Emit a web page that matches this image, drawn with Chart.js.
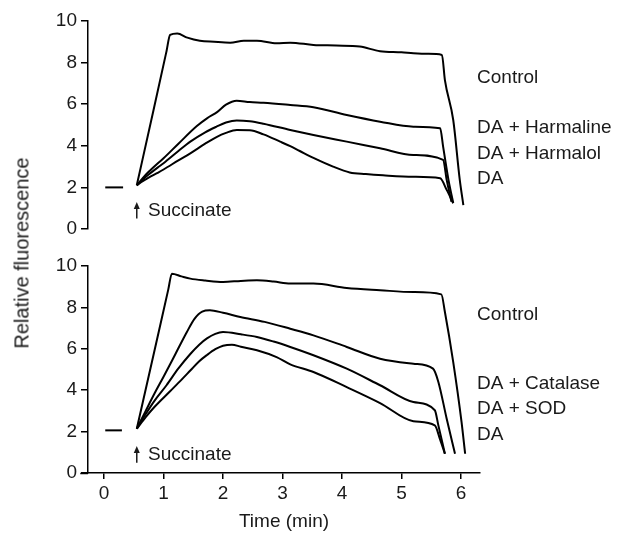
<!DOCTYPE html>
<html>
<head>
<meta charset="utf-8">
<script src="https://cdn.jsdelivr.net/npm/chart.js@4.4.1/dist/chart.umd.min.js"></script>
<style>
  html, body { margin: 0; padding: 0; background: #fff; }
  #wrap { position: relative; width: 619px; height: 535px; overflow: hidden; }
  #top { position: absolute; left: 0; top: 0; }
  #bot { position: absolute; left: 0; top: 250px; }
  #ytitle {
    position: absolute; left: 22px; top: 253px;
    transform: translate(-50%, -50%) rotate(-90deg);
    font-family: "Liberation Sans", Arial, sans-serif; font-size: 20px; color: #1a1a1a;
    white-space: nowrap;
  }
</style>
</head>
<body>
<div id="wrap">
  <canvas id="top" width="619" height="250"></canvas>
  <canvas id="bot" width="619" height="285"></canvas>
  <div id="ytitle">Relative fluorescence</div>
</div>
<script>
// ---------- data ----------
const xTickValues = [0, 1, 2, 3, 4, 5, 6];
const yTickValues = [0, 2, 4, 6, 8, 10];

// top panel
const topBaselineT = [0.02, 0.32];
const topBaselineV = [2.0, 2.0];
const topControlT = [0.55, 0.83, 1.05, 1.11, 1.23, 1.4, 1.61, 1.85, 2.12, 2.35, 2.57, 2.9, 3.13, 3.52, 3.9, 4.3, 4.64, 5.0, 5.2, 5.45, 5.68, 5.73, 5.87, 5.98, 6.04];
const topControlV = [2.1, 5.7, 8.55, 9.33, 9.4, 9.2, 9.05, 9.0, 8.96, 9.05, 9.05, 8.93, 8.96, 8.85, 8.82, 8.77, 8.55, 8.5, 8.45, 8.42, 8.37, 7.16, 5.24, 2.36, 1.15];
const topHarmalineT = [0.55, 0.65, 0.75, 0.9, 1.0, 1.25, 1.56, 1.73, 1.9, 2.05, 2.23, 2.45, 2.68, 3.13, 3.52, 4.08, 4.64, 5.2, 5.65, 5.7, 5.79, 5.87];
const topHarmalineV = [2.1, 2.45, 2.75, 3.15, 3.4, 4.1, 4.95, 5.32, 5.62, 5.98, 6.17, 6.1, 6.07, 5.96, 5.85, 5.48, 5.16, 4.92, 4.84, 3.96, 2.36, 1.25];
const topHarmalolT = [0.55, 0.65, 0.75, 0.9, 1.0, 1.25, 1.45, 1.7, 1.89, 2.05, 2.23, 2.45, 2.68, 3.13, 3.52, 4.08, 4.64, 5.2, 5.7, 5.76, 5.84];
const topHarmalolV = [2.1, 2.38, 2.62, 2.95, 3.16, 3.75, 4.2, 4.65, 4.92, 5.12, 5.22, 5.18, 5.06, 4.76, 4.52, 4.2, 3.88, 3.56, 3.32, 2.36, 1.31];
const topDAT = [0.55, 0.65, 0.75, 0.9, 1.0, 1.25, 1.45, 1.7, 1.89, 2.05, 2.23, 2.45, 2.68, 2.96, 3.13, 3.29, 3.52, 3.85, 4.13, 4.4, 4.69, 5.2, 5.65, 5.76, 5.87];
const topDAV = [2.1, 2.3, 2.47, 2.7, 2.86, 3.3, 3.64, 4.1, 4.42, 4.62, 4.76, 4.75, 4.55, 4.2, 3.98, 3.75, 3.42, 3.0, 2.72, 2.64, 2.58, 2.51, 2.44, 1.88, 1.24];

// bottom panel
const botBaselineT = [0.02, 0.3];
const botBaselineV = [2.06, 2.06];
const botControlT = [0.55, 0.85, 1.08, 1.14, 1.3, 1.45, 1.7, 2.0, 2.3, 2.57, 2.85, 3.13, 3.52, 4.08, 4.64, 5.2, 5.67, 5.73, 5.87, 6.01, 6.07];
const botControlV = [2.14, 5.94, 8.87, 9.63, 9.5, 9.39, 9.3, 9.23, 9.28, 9.31, 9.25, 9.15, 9.15, 8.94, 8.83, 8.74, 8.63, 7.78, 5.36, 2.46, 0.93];
const botCatalaseT = [0.55, 0.7, 0.85, 1.0, 1.2, 1.39, 1.52, 1.65, 1.78, 2.0, 2.29, 2.7, 3.13, 3.52, 4.08, 4.64, 5.2, 5.53, 5.62, 5.76, 5.9];
const botCatalaseV = [2.14, 3.0, 3.85, 4.65, 5.75, 6.8, 7.45, 7.8, 7.86, 7.74, 7.54, 7.3, 6.97, 6.65, 6.09, 5.52, 5.28, 5.04, 4.4, 2.62, 0.93];
const botSODT = [0.55, 0.7, 0.85, 1.05, 1.25, 1.45, 1.6, 1.73, 1.87, 2.0, 2.3, 2.57, 2.85, 3.13, 3.52, 4.08, 4.64, 5.2, 5.56, 5.62, 5.73];
const botSODV = [2.14, 2.85, 3.5, 4.24, 5.05, 5.75, 6.2, 6.5, 6.72, 6.81, 6.7, 6.57, 6.35, 6.09, 5.69, 5.04, 4.24, 3.43, 3.03, 2.3, 0.93];
const botDAT = [0.55, 0.7, 0.85, 1.11, 1.3, 1.45, 1.6, 1.73, 1.87, 2.0, 2.15, 2.3, 2.57, 2.9, 3.13, 3.52, 4.08, 4.64, 5.2, 5.56, 5.65, 5.73];
const botDAV = [2.14, 2.7, 3.2, 3.95, 4.5, 4.95, 5.4, 5.7, 5.98, 6.15, 6.2, 6.1, 5.93, 5.6, 5.25, 4.88, 4.15, 3.38, 2.5, 2.3, 1.61, 0.93];

const topLabels = ["Control", "DA + Harmaline", "DA + Harmalol", "DA"];
const botLabels = ["Control", "DA + Catalase", "DA + SOD", "DA"];
const xTitle = "Time (min)";
const succinateText = "Succinate";

// ---------- layout / style ----------
const topLabelY = [7.26, 4.86, 3.6, 2.4];
const botLabelY = [7.63, 4.33, 3.08, 1.84];
const labelX = 6.27;
const arrowAt = { x: 0.55, yFrom: 0.5, yTo: 1.3, textX: 0.74, textY: 0.88 };
const X_MIN = -0.27, X_MAX = 6.32, X_AXIS_START = -0.4;
const FONT = '"Liberation Sans", Arial, sans-serif';
const INK = '#1a1a1a';

function pts(t, v) { return t.map((x, i) => ({ x: x, y: v[i] })); }
function ds(t, v, label) {
  return { label: label, data: pts(t, v), borderColor: '#000', borderWidth: 2, pointRadius: 0,
           cubicInterpolationMode: 'monotone', fill: false };
}

const annotate = (labels, ys) => ({
  id: 'annot',
  afterDatasetsDraw(chart) {
    const { ctx, scales: { x, y } } = chart;
    ctx.save();
    ctx.fillStyle = INK;
    ctx.font = '19px ' + FONT;
    ctx.textAlign = 'left';
    ctx.textBaseline = 'middle';
    labels.forEach((s, i) => ctx.fillText(s, x.getPixelForValue(labelX), y.getPixelForValue(ys[i])));
    // succinate arrow
    const ax = x.getPixelForValue(arrowAt.x);
    const y0 = y.getPixelForValue(arrowAt.yFrom), y1 = y.getPixelForValue(arrowAt.yTo);
    ctx.strokeStyle = INK; ctx.lineWidth = 1.5;
    ctx.beginPath(); ctx.moveTo(ax, y0); ctx.lineTo(ax, y1 + 3); ctx.stroke();
    ctx.beginPath(); ctx.moveTo(ax, y1); ctx.lineTo(ax - 3, y1 + 7); ctx.lineTo(ax + 3, y1 + 7); ctx.closePath(); ctx.fill();
    ctx.fillText(succinateText, x.getPixelForValue(arrowAt.textX), y.getPixelForValue(arrowAt.textY));
    ctx.restore();
  }
});

const axisExt = {
  id: 'axisExt',
  afterDraw(chart) {
    const { ctx, chartArea, scales: { x } } = chart;
    ctx.save();
    ctx.strokeStyle = '#000'; ctx.lineWidth = 1.5;
    ctx.beginPath();
    ctx.moveTo(x.getPixelForValue(X_AXIS_START), chartArea.bottom + 0.5);
    ctx.lineTo(chartArea.left, chartArea.bottom + 0.5);
    ctx.stroke();
    ctx.restore();
  }
};

function yScale() {
  return {
    type: 'linear', position: 'left', min: 0, max: 10,
    afterFit(s) { s.width = 88; },
    afterBuildTicks(s) { s.ticks = yTickValues.map(v => ({ value: v })); },
    grid: { display: true, drawOnChartArea: false, drawTicks: true, tickLength: 7, color: '#000', lineWidth: 1.5 },
    border: { display: true, color: '#000', width: 1.5 },
    ticks: { padding: 4, color: INK, font: { family: FONT, size: 19 } }
  };
}

Chart.defaults.animation = false;

new Chart(document.getElementById('top'), {
  type: 'line',
  data: { datasets: [
    ds(topBaselineT, topBaselineV, 'baseline'),
    ds(topControlT, topControlV, topLabels[0]),
    ds(topHarmalineT, topHarmalineV, topLabels[1]),
    ds(topHarmalolT, topHarmalolV, topLabels[2]),
    ds(topDAT, topDAV, topLabels[3])
  ] },
  options: {
    responsive: false, animation: false,
    layout: { padding: { left: 0, top: 21, right: 139, bottom: 21 } },
    plugins: { legend: { display: false }, tooltip: { enabled: false } },
    scales: {
      x: { type: 'linear', min: X_MIN, max: X_MAX, display: false },
      y: yScale()
    }
  },
  plugins: [annotate(topLabels, topLabelY)]
});

new Chart(document.getElementById('bot'), {
  type: 'line',
  data: { datasets: [
    ds(botBaselineT, botBaselineV, 'baseline'),
    ds(botControlT, botControlV, botLabels[0]),
    ds(botCatalaseT, botCatalaseV, botLabels[1]),
    ds(botSODT, botSODV, botLabels[2]),
    ds(botDAT, botDAV, botLabels[3])
  ] },
  options: {
    responsive: false, animation: false,
    layout: { padding: { left: 0, top: 16, right: 139, bottom: 0 } },
    plugins: { legend: { display: false }, tooltip: { enabled: false } },
    scales: {
      x: {
        type: 'linear', min: X_MIN, max: X_MAX,
        afterFit(s) { s.height = 62; },
        afterBuildTicks(s) { s.ticks = xTickValues.map(v => ({ value: v })); },
        grid: { display: true, drawOnChartArea: false, drawTicks: true, tickLength: 6, color: '#000', lineWidth: 1.5 },
        border: { display: true, color: '#000', width: 1.5 },
        ticks: { padding: 3, color: INK, font: { family: FONT, size: 19 } },
        title: { display: true, text: xTitle, color: INK, font: { family: FONT, size: 19 }, padding: { top: 4, bottom: 2 } }
      },
      y: yScale()
    }
  },
  plugins: [annotate(botLabels, botLabelY), axisExt]
});
</script>
</body>
</html>
